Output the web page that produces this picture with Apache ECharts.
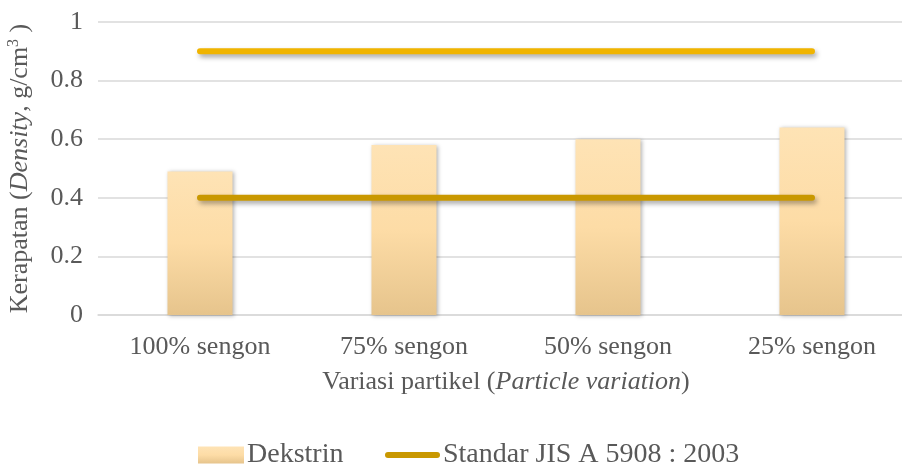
<!DOCTYPE html>
<html>
<head>
<meta charset="utf-8">
<script src="https://cdn.jsdelivr.net/npm/echarts@6/dist/echarts.min.js"></script>
<style>html,body{margin:0;padding:0;background:#fff;}#chart{width:902px;height:464px;}</style>
</head>
<body>
<div id="chart"></div>
<script>
var categories = ['100% sengon', '75% sengon', '50% sengon', '25% sengon'];
var dekstrin = [0.49, 0.58, 0.60, 0.64];
var standarMax = [0.9, 0.9, 0.9, 0.9];
var standarMin = [0.4, 0.4, 0.4, 0.4];
var yTicks = { min: 0, max: 1, interval: 0.2 };
var seriesNames = ['Dekstrin', 'Standar JIS A 5908 : 2003', 'Standar JIS A 5908 : 2003 (maks)'];

var FONT = 'Liberation Serif, Times New Roman, serif';
var TXT = '#595959';
var FS = 26;
var chart = echarts.init(document.getElementById('chart'));
var barGrad = new echarts.graphic.LinearGradient(0, 0, 0, 1, [
  { offset: 0, color: '#fee3b5' },
  { offset: 0.5, color: '#fddca6' },
  { offset: 1, color: '#e6c48c' }
]);
var lineShadow = { shadowColor: 'rgba(0,0,0,0.35)', shadowBlur: 5, shadowOffsetX: 2, shadowOffsetY: 3 };
var legendText = { fontFamily: FONT, fontSize: 28, color: TXT, padding: [0, 0, 0, -2] };
chart.setOption({
  animation: false,
  textStyle: { fontFamily: FONT, color: TXT },
  grid: { left: 98, top: 22, height: 293, width: 816, outerBoundsMode: 'none', containLabel: false },
  legend: [
    {
      left: 198, top: 441, padding: 0,
      itemWidth: 46, itemHeight: 17,
      symbolKeepAspect: true,
      textStyle: legendText,
      data: [{ name: seriesNames[0], icon: 'path://M0,0 L46,0 L46,17 L0,17 Z' }]
    },
    {
      left: 385, top: 441, padding: 0,
      itemWidth: 55, itemHeight: 17,
      symbolKeepAspect: true,
      textStyle: legendText,
      data: [{ name: seriesNames[1], icon: 'path://M3,0 L52,0 A3,3 0 0 1 52,6 L3,6 A3,3 0 0 1 3,0 Z' }]
    }
  ],
  xAxis: {
    type: 'category',
    data: categories,
    axisTick: { show: false },
    axisLine: { lineStyle: { color: '#d9d9d9', width: 1.5 } },
    axisLabel: { fontFamily: FONT, fontSize: FS, color: TXT, margin: 19 },
    name: '{n|Variasi partikel (}{i|Particle variation}{n|)}',
    nameLocation: 'middle',
    nameGap: 54,
    nameTextStyle: {
      rich: {
        n: { fontFamily: FONT, fontSize: FS, color: TXT },
        i: { fontFamily: FONT, fontSize: FS, color: TXT, fontStyle: 'italic' }
      }
    }
  },
  yAxis: {
    type: 'value',
    min: yTicks.min, max: yTicks.max, interval: yTicks.interval,
    axisLine: { show: false },
    axisTick: { show: false },
    splitLine: { lineStyle: { color: '#d9d9d9', width: 1.5 } },
    axisLabel: { fontFamily: FONT, fontSize: FS, color: TXT, margin: 15 },
    name: '{n|Kerapatan (}{i|Density}{n|, g/cm}{s|3}{n| )}',
    nameLocation: 'middle',
    nameRotate: 90,
    nameGap: 64,
    nameTextStyle: {
      rich: {
        n: { fontFamily: FONT, fontSize: 26, color: TXT, lineHeight: 28 },
        i: { fontFamily: FONT, fontSize: 26, color: TXT, fontStyle: 'italic', lineHeight: 28 },
        s: { fontFamily: FONT, fontSize: 16, color: TXT, lineHeight: 14, verticalAlign: 'top' }
      }
    }
  },
  series: [
    {
      name: seriesNames[0], type: 'bar', data: dekstrin, barWidth: 65,
      itemStyle: { color: barGrad, shadowColor: 'rgba(0,0,0,0.3)', shadowBlur: 4, shadowOffsetX: 1, shadowOffsetY: 1 }
    },
    {
      name: seriesNames[1], type: 'line', data: standarMin, symbol: 'none',
      itemStyle: { color: '#c99800' },
      lineStyle: Object.assign({ color: '#c99800', width: 6, cap: 'round' }, lineShadow)
    },
    {
      name: seriesNames[2], type: 'line', data: standarMax, symbol: 'none',
      itemStyle: { color: '#f0b400' },
      lineStyle: Object.assign({ color: '#f0b400', width: 6, cap: 'round' }, lineShadow)
    }
  ]
});
</script>
</body>
</html>
